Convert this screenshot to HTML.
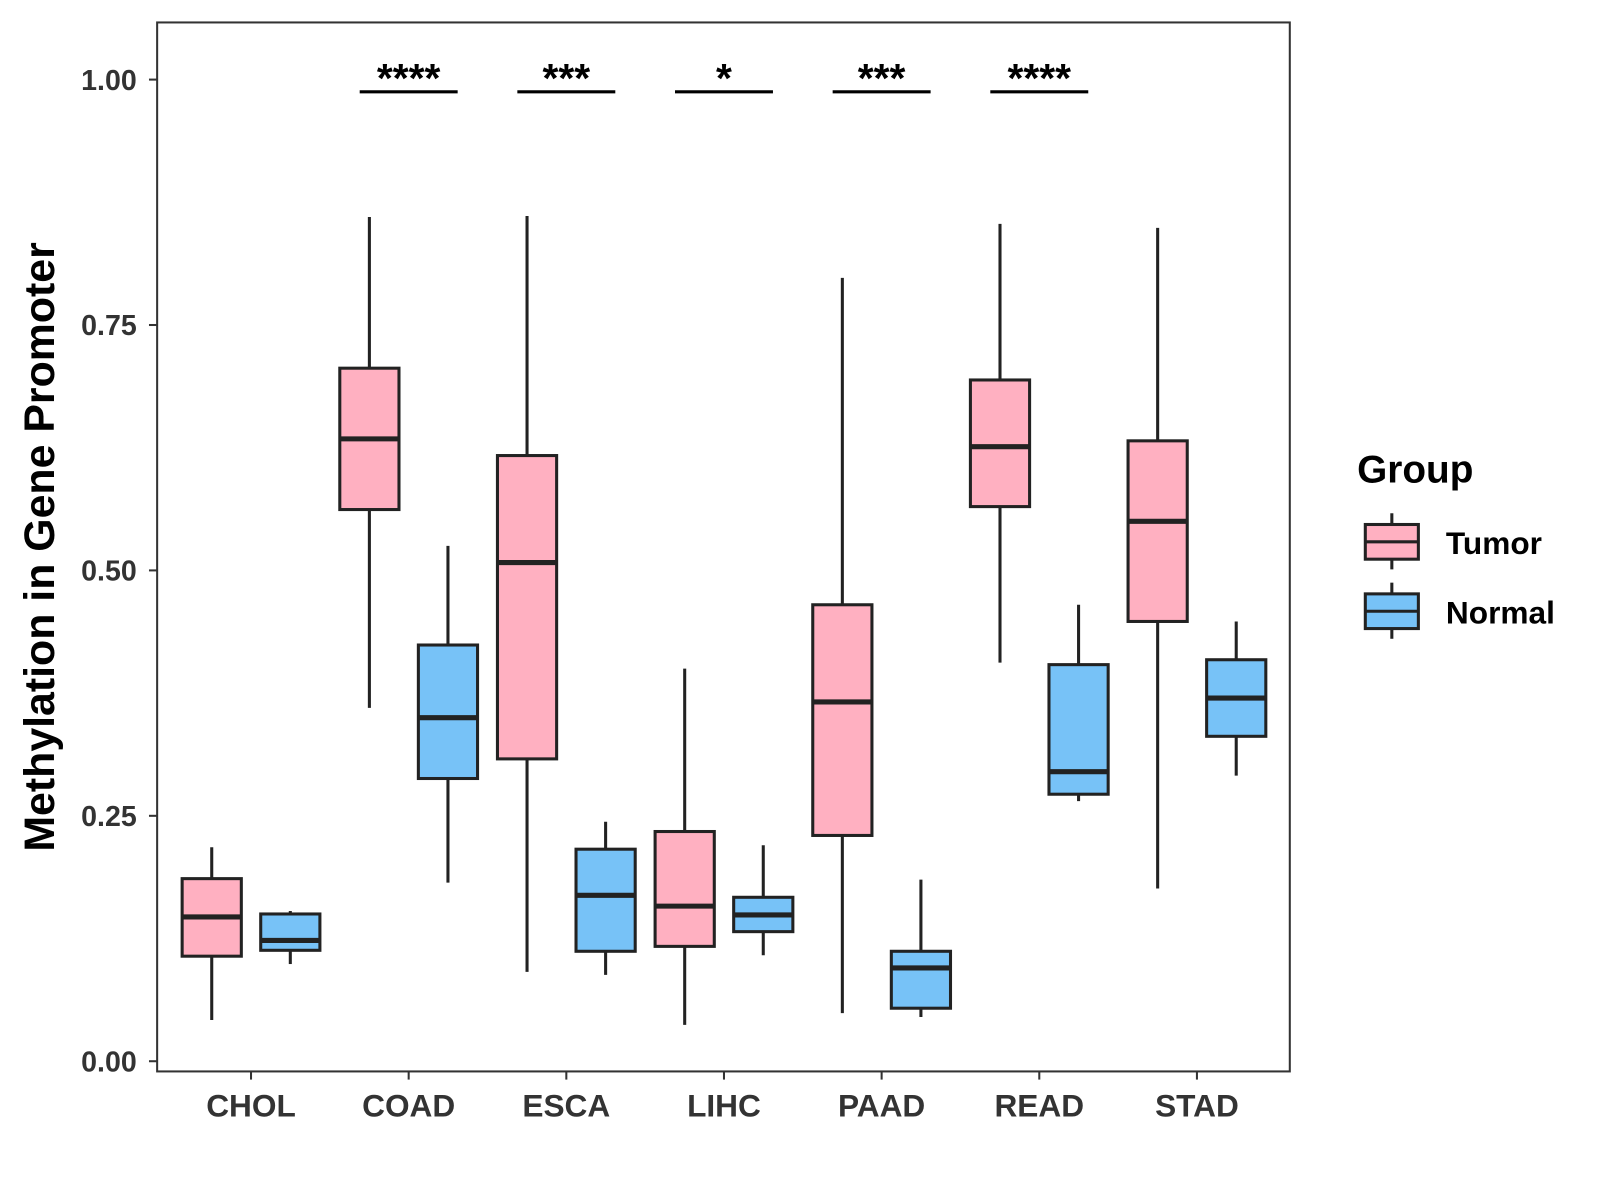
<!DOCTYPE html>
<html><head><meta charset="utf-8"><style>body{margin:0;background:#fff}svg{display:block}text{font-family:"Liberation Sans",Arial,sans-serif;font-weight:bold}</style></head>
<body>
<svg id="chart" width="1600" height="1200" viewBox="0 0 1568 1176" xmlns="http://www.w3.org/2000/svg">
<rect x="154" y="22" width="1110" height="1028" fill="#fff" stroke="#333" stroke-width="2"/>
<g id="axes"></g><g id="boxes"></g><g id="sig"></g>
<text transform="translate(53,536) rotate(-90)" text-anchor="middle" font-size="42" fill="#000">Methylation in Gene Promoter</text>
<g>
<text x="1330" y="473" font-size="38" fill="#000">Group</text>
<g>
<line x1="1364" y1="503" x2="1364" y2="558" stroke="#222" stroke-width="3"/>
<rect x="1338" y="514" width="52" height="34" fill="#FFB0C1" stroke="#222" stroke-width="3"/>
<line x1="1338" y1="531" x2="1390" y2="531" stroke="#222" stroke-width="3"/>
<text x="1417" y="543" font-size="31" fill="#000">Tumor</text></g>
<g>
<line x1="1364" y1="571" x2="1364" y2="626" stroke="#222" stroke-width="3"/>
<rect x="1338" y="582" width="52" height="34" fill="#77C2F7" stroke="#222" stroke-width="3"/>
<line x1="1338" y1="599" x2="1390" y2="599" stroke="#222" stroke-width="3"/>
<text x="1417" y="611" font-size="31" fill="#000">Normal</text></g>
</g>
</svg>
<script>
const categories=["CHOL","COAD","ESCA","LIHC","PAAD","READ","STAD"];
const yTicks=[0,0.25,0.5,0.75,1.0];
const yTickLabels=["0.00","0.25","0.50","0.75","1.00"];
// [whiskerLow, q1, median, q3, whiskerHigh]
const tumorStats=[[0.042,0.107,0.147,0.186,0.218],[0.360,0.562,0.634,0.706,0.860],[0.091,0.308,0.508,0.617,0.861],[0.037,0.117,0.158,0.234,0.400],[0.049,0.230,0.366,0.465,0.798],[0.406,0.565,0.626,0.694,0.853],[0.176,0.448,0.550,0.632,0.849]];
const normalStats=[[0.099,0.113,0.123,0.150,0.153],[0.182,0.288,0.350,0.424,0.525],[0.088,0.112,0.169,0.216,0.244],[0.108,0.132,0.149,0.167,0.220],[0.045,0.054,0.095,0.112,0.185],[0.265,0.272,0.295,0.404,0.465],[0.291,0.331,0.370,0.409,0.448]];
const sigLabels=["","****","***","*","***","****",""];
const NS="http://www.w3.org/2000/svg";
const y=v=>1040-v*962;
const x=i=>246+i*154.5;
function mk(p,t,a){const e=document.createElementNS(NS,t);for(const k in a)e.setAttribute(k,a[k]);p.appendChild(e);return e;}
const axes=document.getElementById('axes'),boxes=document.getElementById('boxes'),sig=document.getElementById('sig');
yTicks.forEach((v,i)=>{
 const l=mk(axes,'line',{x1:146,x2:154,y1:y(v),y2:y(v),stroke:'#333','stroke-width':2});
 
 
 const t=mk(axes,'text',{x:134,y:y(v)+10,'text-anchor':'end','font-size':28,fill:'#333'});
 t.textContent=yTickLabels[i];
 
 
});
categories.forEach((c,i)=>{
 const l=mk(axes,'line',{x1:x(i),x2:x(i),y1:1050,y2:1058,stroke:'#333','stroke-width':2});
 
 
 const t=mk(axes,'text',{x:x(i),y:1094,'text-anchor':'middle','font-size':31,fill:'#333'});
 t.textContent=c;
 
 
 [[tumorStats[i],-38.5,'#FFB0C1','tumor'],[normalStats[i],38.5,'#77C2F7','normal']].forEach(([s,off,col,nm])=>{
  const cx=x(i)+off,w=58;
  const g=mk(boxes,'g',{});
  
  
  mk(g,'line',{x1:cx,x2:cx,y1:y(s[0]),y2:y(s[4]),stroke:'#222','stroke-width':3});
  mk(g,'rect',{x:cx-w/2,y:y(s[3]),width:w,height:y(s[1])-y(s[3]),fill:col,stroke:'#222','stroke-width':3});
  mk(g,'line',{x1:cx-w/2,x2:cx+w/2,y1:y(s[2]),y2:y(s[2]),stroke:'#222','stroke-width':5});
 });
 if(sigLabels[i]){
  const g=mk(sig,'g',{});
  
  
  mk(g,'line',{x1:x(i)-48,x2:x(i)+48,y1:90,y2:90,stroke:'#000','stroke-width':3});
  const t=mk(g,'text',{x:x(i),y:90,'text-anchor':'middle','font-size':40,fill:'#000'});
  t.textContent=sigLabels[i];
 }
});
</script>
</body></html>
